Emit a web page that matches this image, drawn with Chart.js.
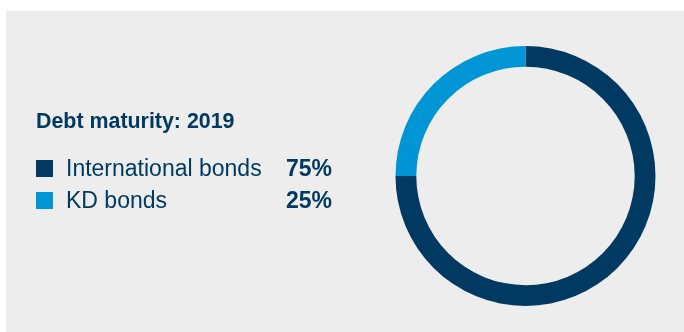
<!DOCTYPE html>
<html>
<head>
<meta charset="utf-8">
<script src="https://cdn.jsdelivr.net/npm/chart.js@4/dist/chart.umd.min.js"></script>
<style>
  html, body { margin: 0; padding: 0; background: #ffffff; }
  #wrap { position: relative; width: 684px; height: 332px; }
  canvas { display: block; }
</style>
</head>
<body>
<div id="wrap"><canvas id="chart" width="684" height="332"></canvas></div>
<script>
// Debt maturity split for 2019
const title = 'Debt maturity: 2019';
const categories = ['International bonds', 'KD bonds'];
const shares = [75, 25];
const colors = ['#003a63', '#0095d5'];

const NAVY = '#003a63';
const PANEL = '#ededed';

// Grey panel, heading and the legend with its percentages
const panelAndLegend = {
  id: 'panelAndLegend',
  beforeDraw(chart) {
    const ctx = chart.ctx;
    ctx.save();
    ctx.fillStyle = PANEL;
    ctx.fillRect(6, 11, 678, 321);
    ctx.restore();
  },
  afterDraw(chart) {
    const ctx = chart.ctx;
    ctx.save();
    ctx.textBaseline = 'alphabetic';
    ctx.fillStyle = NAVY;
    ctx.font = 'bold 21.4px "Liberation Sans", Arial, sans-serif';
    ctx.textAlign = 'left';
    ctx.fillText(title, 36, 128);

    const rowBase = 176, rowStep = 32;
    categories.forEach((name, i) => {
      const base = rowBase + i * rowStep;
      ctx.fillStyle = colors[i];
      ctx.fillRect(36, base - 16, 17, 17);
      ctx.fillStyle = NAVY;
      ctx.textAlign = 'left';
      ctx.font = '23px "Liberation Sans", Arial, sans-serif';
      ctx.fillText(name, 66, base);
      ctx.textAlign = 'right';
      ctx.font = 'bold 23px "Liberation Sans", Arial, sans-serif';
      ctx.fillText(shares[i] + '%', 332, base);
    });
    ctx.restore();
  }
};

new Chart(document.getElementById('chart'), {
  type: 'doughnut',
  data: {
    labels: categories,
    datasets: [{
      data: shares,
      backgroundColor: colors,
      borderWidth: 0,
      hoverOffset: 0
    }]
  },
  options: {
    responsive: false,
    animation: false,
    cutout: '84%',
    layout: { padding: { left: 395.5, right: 28.5, top: 46, bottom: 26 } },
    plugins: {
      legend: { display: false },
      tooltip: { enabled: false },
      title: { display: false }
    }
  },
  plugins: [panelAndLegend]
});
</script>
</body>
</html>
